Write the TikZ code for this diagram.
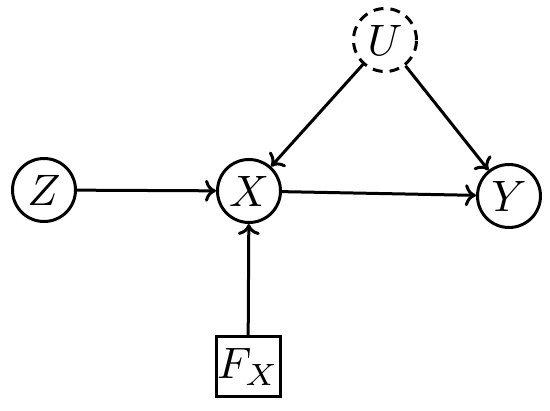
\documentclass[tikz,border=0pt]{standalone}
\usepackage{graphicx}
\usetikzlibrary{arrows.meta}
\newcommand{\nodelabel}[1]{\scalebox{4.4}{$#1$}}
\begin{document}
\begin{tikzpicture}[x=1pt,y=-1pt,
  var/.style={circle,draw,line width=3pt,minimum size=63pt,inner sep=0pt},
  latent/.style={var,dash pattern=on 10pt off 7pt},
  fbox/.style={draw,line width=3pt,minimum width=64pt,minimum height=60pt,inner sep=0pt},
  edge/.style={line width=3pt,-{To[length=11pt,width=22pt,line width=3pt]}}]
\useasboundingbox (0,0) rectangle (550,411);
\node[var] (Z) at (44,190) {\nodelabel{Z}};
\node[var] (X) at (249,191) {\nodelabel{X}};
\node[var] (Y) at (509,196) {\nodelabel{Y}};
\node[latent] (U) at (385,40) {\nodelabel{U}};
\node[fbox] (F) at (248,367) {\nodelabel{F_X}};
\draw[edge] (Z) -- (X);
\draw[edge] (X) -- (Y);
\draw[edge] (U) -- (X);
\draw[edge] (U) -- (Y);
\draw[edge] (F) -- (X);
\end{tikzpicture}
\end{document}
